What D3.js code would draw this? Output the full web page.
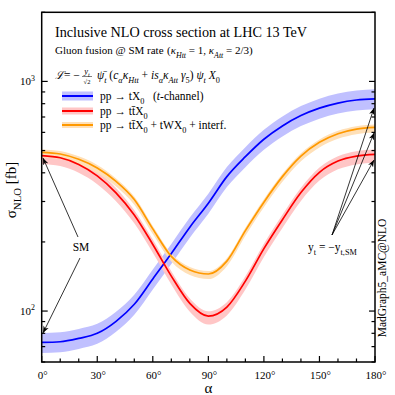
<!DOCTYPE html>
<html>
<head>
<meta charset="utf-8">
<script src="https://cdn.jsdelivr.net/npm/d3@7"></script>
<style>
body { margin: 0; background: #fff; }
svg { display: block; }
text { font-family: "Liberation Serif", "DejaVu Serif", serif; fill: #000; }
</style>
</head>
<body>
<svg id="chart"></svg>
<script>
// ---- data ----
var alphaDeg = [0, 10, 20, 30, 40, 50, 60, 70, 80, 90, 100, 110, 120, 130, 140, 150, 160, 170, 180];
var sigmaTX0 = [73, 73.5, 76, 80, 90, 107, 138, 178, 232, 295, 385, 470, 560, 640, 710, 765, 805, 830, 840];
var sigmaTTX0 = [475, 465, 435, 388, 328, 262, 195, 142, 108, 95, 104, 135, 187, 250, 328, 402, 450, 473, 481];
var sigmaTTXall = [491, 483, 458, 420, 368, 306, 228, 173, 151, 145, 165, 224, 298, 385, 473, 543, 592, 620, 631];
// relative scale uncertainty (lower, upper)
var bandTX0 = [-0.10, 0.10];
var bandTTX0 = [-0.08, 0.05];
var bandTTXall = [-0.05, 0.03];

var xTickMajor = [0, 30, 60, 90, 120, 150, 180];
var xTickMinor = d3.range(0, 181, 10);
var yTickMajor = [100, 1000];
var yTickMinor = [60, 70, 80, 90, 200, 300, 400, 500, 600, 700, 800, 900, 2000];

var legendLabels = [
    [{t: "pp → tX"}, {t: "0", sub: 1}, {t: "\u00a0\u00a0\u00a0("}, {t: "t", it: 1}, {t: "-channel)"}],
    [{t: "pp → tt\u0304X"}, {t: "0", sub: 1}],
    [{t: "pp → tt\u0304X"}, {t: "0", sub: 1}, {t: " + tWX"}, {t: "0", sub: 1}, {t: " + interf."}]
];

var series = [
    {values: sigmaTX0, band: bandTX0, line: "#0000ff", fill: "#c0c0ff"},
    {values: sigmaTTX0, band: bandTTX0, line: "#ff0000", fill: "#ffc6c6"},
    {values: sigmaTTXall, band: bandTTXall, line: "#ff9900", fill: "#ffe0b8"}
];

// ---- layout ----
var W = 395, H = 395;
var L = 41.7, R = 375, T = 12.3, B = 362;

var svg = d3.select("#chart").attr("width", W).attr("height", H);

var x = d3.scaleLinear().domain([0, 180]).range([L, R]);
var y = d3.scaleLog().domain([60, 2000]).range([B, T]);

// rich text helper: parts = [{t, sub, sup, it}]
function rich(sel, px, py, parts, size, anchor) {
    var t = sel.append("text")
        .attr("x", px).attr("y", py)
        .attr("font-size", size)
        .attr("text-anchor", anchor || "start");
    var shift = 0;
    parts.forEach(function(p) {
        var target = p.sub ? size * 0.32 : (p.sup ? -size * 0.42 : 0);
        var ts = t.append("tspan").text(p.t).attr("dy", target - shift);
        shift = target;
        if (p.sub || p.sup) ts.attr("font-size", size * 0.72);
        if (p.it) ts.attr("font-style", "italic");
    });
    return t;
}

svg.append("clipPath").attr("id", "plotclip")
    .append("rect").attr("x", L).attr("y", T).attr("width", R - L).attr("height", B - T);

var plot = svg.append("g").attr("clip-path", "url(#plotclip)");

var lineGen = d3.line()
    .x(function(d) { return x(d.a); })
    .y(function(d) { return y(d.v); })
    .curve(d3.curveMonotoneX);

var areaGen = d3.area()
    .x(function(d) { return x(d.a); })
    .y0(function(d) { return y(d.lo); })
    .y1(function(d) { return y(d.hi); })
    .curve(d3.curveMonotoneX);

series.forEach(function(s) {
    s.pts = alphaDeg.map(function(a, i) {
        var v = s.values[i];
        return {a: a, v: v, lo: v * (1 + s.band[0]), hi: v * (1 + s.band[1])};
    });
});

// bands first, then the central lines
series.forEach(function(s) {
    plot.append("path").datum(s.pts)
        .attr("d", areaGen)
        .attr("fill", s.fill);
});
series.forEach(function(s) {
    plot.append("path").datum(s.pts)
        .attr("d", lineGen)
        .attr("fill", "none")
        .attr("stroke", s.line)
        .attr("stroke-width", 1.7);
});

// ---- frame and ticks ----
var axes = svg.append("g").attr("stroke", "#000");
axes.append("rect")
    .attr("x", L).attr("y", T).attr("width", R - L).attr("height", B - T)
    .attr("fill", "none").attr("stroke-width", 1.5);

xTickMinor.forEach(function(a) {
    var len = xTickMajor.indexOf(a) >= 0 ? 6 : 3.5;
    axes.append("line").attr("x1", x(a)).attr("x2", x(a))
        .attr("y1", B).attr("y2", B - len).attr("stroke-width", 1.2);
});
yTickMajor.concat(yTickMinor).forEach(function(v) {
    var len = yTickMajor.indexOf(v) >= 0 ? 6 : 3.5;
    axes.append("line").attr("x1", L).attr("x2", L + len)
        .attr("y1", y(v)).attr("y2", y(v)).attr("stroke-width", 1.2);
    axes.append("line").attr("x1", R).attr("x2", R - len)
        .attr("y1", y(v)).attr("y2", y(v)).attr("stroke-width", 1.2);
});

xTickMajor.forEach(function(a) {
    svg.append("text").attr("x", x(a) + 1).attr("y", 379)
        .attr("font-size", 11).attr("text-anchor", "middle")
        .text(a + "°");
});
yTickMajor.forEach(function(v) {
    rich(svg, 35, y(v) + 4, [{t: "10"}, {t: String(Math.round(Math.log10(v))), sup: 1}], 11, "end");
});

// axis titles
svg.append("text").attr("x", x(90)).attr("y", 393)
    .attr("font-size", 15).attr("text-anchor", "middle").text("α");
var ylab = rich(svg, 0, 0, [{t: "σ"}, {t: "NLO", sub: 1}, {t: " [fb]"}], 15, "middle");
ylab.attr("transform", "translate(16,190) rotate(-90)");

svg.append("text")
    .attr("transform", "translate(386,278) rotate(-90)")
    .attr("font-size", 11.5).attr("text-anchor", "middle")
    .text("MadGraph5_aMC@NLO");

// ---- header texts ----
svg.append("text").attr("x", 55).attr("y", 37).attr("font-size", 14.2)
    .text("Inclusive NLO cross section at LHC 13 TeV");
svg.append("text").attr("x", 55).attr("y", 54).attr("font-size", 11)
    .text("Gluon fusion @ SM rate");
rich(svg, 167, 54, [
    {t: "("}, {t: "κ", it: 1}, {t: "Htt", sub: 1, it: 1}, {t: " = 1, "},
    {t: "κ", it: 1}, {t: "Att", sub: 1, it: 1}, {t: " = 2/3)"}
], 11);

// Lagrangian, built from pieces
svg.append("text").attr("x", 55).attr("y", 79)
    .style("font-family", "'DejaVu Serif', serif").style("font-style", "italic")
    .attr("font-size", 11).text("ℒ");
svg.append("text").attr("x", 64).attr("y", 79).attr("font-size", 11.5).text("= −");
rich(svg, 87, 74, [{t: "y", it: 1}, {t: "t", sub: 1, it: 1}], 8.5, "middle");
svg.append("line").attr("x1", 82).attr("x2", 92).attr("y1", 76.5).attr("y2", 76.5)
    .attr("stroke", "#000").attr("stroke-width", 0.5);
svg.append("text").attr("x", 87).attr("y", 83.5).attr("font-size", 6.5)
    .attr("text-anchor", "middle").text("√2");
rich(svg, 97, 79, [
    {t: "ψ\u0304", it: 1}, {t: "t", sub: 1, it: 1}, {t: " ("},
    {t: "c", it: 1}, {t: "α", sub: 1, it: 1}, {t: "κ", it: 1}, {t: "Htt", sub: 1, it: 1},
    {t: " + "}, {t: "is", it: 1}, {t: "α", sub: 1, it: 1}, {t: "κ", it: 1}, {t: "Att", sub: 1, it: 1},
    {t: " γ", it: 1}, {t: "5", sub: 1}, {t: ") "}, {t: "ψ", it: 1}, {t: "t", sub: 1, it: 1},
    {t: " X", it: 1}, {t: "0", sub: 1}
], 11.5);

// ---- legend ----
var legendY = [96, 111, 125];
var bandH = [9, 7, 6];
series.forEach(function(s, i) {
    svg.append("rect").attr("x", 62).attr("y", legendY[i] - bandH[i] / 2)
        .attr("width", 31).attr("height", bandH[i]).attr("fill", s.fill);
    svg.append("line").attr("x1", 62).attr("x2", 93)
        .attr("y1", legendY[i]).attr("y2", legendY[i])
        .attr("stroke", s.line).attr("stroke-width", 2);
    rich(svg, 100, legendY[i] + 4, legendLabels[i], 11.5);
});

// ---- annotations ----
svg.append("defs").append("marker")
    .attr("id", "arrow").attr("viewBox", "0 -4 10 8")
    .attr("refX", 10).attr("refY", 0)
    .attr("markerWidth", 7).attr("markerHeight", 6)
    .attr("markerUnits", "userSpaceOnUse")
    .attr("orient", "auto")
    .append("path").attr("d", "M0,-4L10,0L0,4L3,0Z").attr("fill", "#000");

var arrows = [
    [78, 237, 43, 158],
    [80, 258, 43, 333],
    [332, 235, 374, 108],
    [332, 235, 374, 133],
    [332, 235, 374, 160]
];
arrows.forEach(function(a) {
    svg.append("line")
        .attr("x1", a[0]).attr("y1", a[1]).attr("x2", a[2]).attr("y2", a[3])
        .attr("stroke", "#000").attr("stroke-width", 0.8)
        .attr("marker-end", "url(#arrow)");
});

svg.append("text").attr("x", 81).attr("y", 251).attr("font-size", 11.5)
    .attr("text-anchor", "middle").text("SM")
    .style("paint-order", "stroke").attr("stroke", "#fff").attr("stroke-width", 3);
rich(svg, 308, 251, [
    {t: "y"}, {t: "t", sub: 1}, {t: " = −y"}, {t: "t,SM", sub: 1}
], 11.5).style("paint-order", "stroke").attr("stroke", "#fff").attr("stroke-width", 3);
</script>
</body>
</html>
